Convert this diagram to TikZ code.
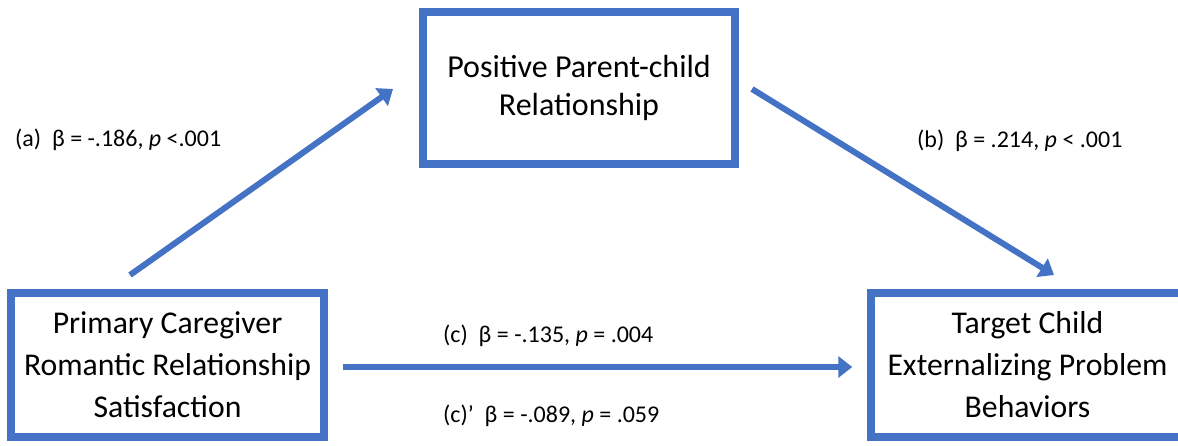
\documentclass[tikz,border=0pt]{standalone}
\usepackage{fontspec}
\setmainfont{Carlito}
\usetikzlibrary{arrows.meta}
\definecolor{obl}{HTML}{4472C4}
\begin{document}
\begin{tikzpicture}[x=1pt,y=-1pt,
  box/.style={draw=obl, line width=7.5pt, rectangle, align=center, inner sep=0pt},
  boxtxt/.style={font=\fontsize{31.7}{42}\selectfont},
  toptxt/.style={font=\fontsize{32}{38.5}\selectfont},
  arr/.style={draw=obl, line width=6pt, -{Triangle[length=14pt,width=21pt]}},
  lbl/.style={font=\fontsize{24}{28}\selectfont, anchor=base west, inner sep=0pt}]
\useasboundingbox (0,0) rectangle (1178,445);
\fill[white] (0,0) rectangle (1178,445);
\node[box, toptxt, minimum width=312pt, minimum height=152pt] (m) at (579,88) {Positive Parent-child\\Relationship};
\node[box, boxtxt, minimum width=313pt, minimum height=144pt] (l) at (167.5,365) {Primary Caregiver\\Romantic Relationship\\Satisfaction};
\node[box, boxtxt, minimum width=313pt, minimum height=144pt] (r) at (1027.5,365) {Target Child\\Externalizing Problem\\Behaviors};
\coordinate (a0) at (130,275);
\coordinate (a1) at (393,89);
\coordinate (b0) at (752,89);
\coordinate (b1) at (1054,275);
\draw[arr] (a0) -- (a1);
\draw[arr] (b0) -- (b1);
\draw[arr] ([xshift=15pt,yshift=-2pt]l.east) -- ([xshift=-15pt,yshift=-2pt]r.west);
\node[lbl] (la) at (15,146) {(a)\ \ β = -.186, \textit{p} <.001};
\node[lbl] (lb) at (917,147) {(b)\ \ β = .214, \textit{p} < .001};
\node[lbl] (lc) at (443,342) {(c)\ \ β = -.135, \textit{p} = .004};
\node[lbl] (lc2) at (443,422) {(c)’\ \ β = -.089, \textit{p} = .059};
\end{tikzpicture}
\end{document}
